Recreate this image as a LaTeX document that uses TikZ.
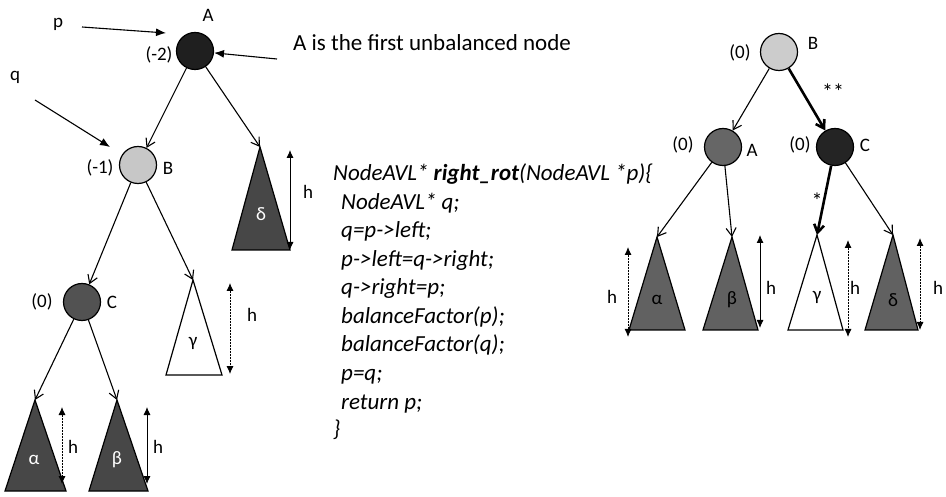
\documentclass[tikz,border=0pt]{standalone}
\usepackage{fontspec}
\setmainfont{Carlito}
\usetikzlibrary{arrows.meta}
\begin{document}
\begin{tikzpicture}[x=1pt,y=-1pt,
  lbl/.style={font=\fontsize{19}{22}\selectfont, inner sep=0pt},
  greek/.style={font=\fontsize{19}{22}\selectfont, inner sep=0pt},
  avl/.style={circle, draw, line width=1.2pt, minimum size=37pt, inner sep=0pt},
  tedge/.style={-{Straight Barb[length=8pt,width=10pt]}, line width=1.1pt},
  bedge/.style={-{Straight Barb[length=8pt,width=10pt]}, line width=2.6pt},
  ptr/.style={-{Latex[length=10pt,width=8pt]}, line width=1.1pt},
  harrow/.style={{Latex[length=8pt,width=7pt]}-{Latex[length=8pt,width=7pt]}, line width=0.9pt},
  sub/.style={draw, line width=1.2pt, line join=miter},
  code/.style={font=\fontsize{23}{27}\selectfont\itshape, anchor=base west, inner sep=0pt},
]
\path[use as bounding box] (0,0) rectangle (946,497);

% ---------- left tree ----------
\node[avl, fill=black!88] (lA) at (195,51) {};
\node[avl, fill=black!22] (lB) at (138,165) {};
\node[avl, fill=black!68] (lC) at (82,302) {};

\node[lbl] (lAn) at (208,15) {A};
\node[lbl] (lAb) at (159,55) {(-2)};
\node[lbl] (lBb) at (100,168) {(-1)};
\node[lbl] (lBn) at (168,168) {B};
\node[lbl] (lCb) at (42,302) {(0)};
\node[lbl] (lCn) at (112,302) {C};

% subtrees
\coordinate (ldT) at (260,147);
\coordinate (lgT) at (193,280);
\coordinate (laT) at (35,400);
\coordinate (lbT) at (117,400);
\path[sub, fill=black!72] (ldT) -- (232,250) -- (290,250) -- cycle;
\path[sub, fill=white] (lgT) -- (166,375) -- (222,375) -- cycle;
\path[sub, fill=black!72] (laT) -- (5,491) -- (66,491) -- cycle;
\path[sub, fill=black!72] (lbT) -- (89,491) -- (148,491) -- cycle;
\node[greek, text=white] (ldl) at (261,214) {δ};
\node[greek] (lgl) at (193,343) {γ};
\node[greek, text=white] (lal) at (34,460) {α};
\node[greek, text=white] (lbl) at (117,460) {β};

% edges
\draw[tedge] (lA) -- (lB);
\draw[tedge] (lA) -- (ldT);
\draw[tedge] (lB) -- (lC);
\draw[tedge] (lB) -- (lgT);
\draw[tedge] (lC) -- (laT);
\draw[tedge] (lC) -- (lbT);

% heights
\coordinate (ldh1) at (290,150); \coordinate (ldh2) at (290,250);
\coordinate (lgh1) at (230,283); \coordinate (lgh2) at (230,374);
\coordinate (lah1) at (62,407);  \coordinate (lah2) at (62,484);
\coordinate (lbh1) at (147,407); \coordinate (lbh2) at (147,484);
\draw[harrow] (ldh1) -- (ldh2);
\draw[harrow, dash pattern=on 2pt off 1pt] (lgh1) -- (lgh2);
\draw[harrow, dash pattern=on 2pt off 1pt] (lah1) -- (lah2);
\draw[harrow] (lbh1) -- (lbh2);
\node[lbl] (ldh) at (308,192) {h};
\node[lbl] (lgh) at (252,315) {h};
\node[lbl] (lah) at (73,447) {h};
\node[lbl] (lbh) at (158,447) {h};

% pointers
\node[lbl] (p) at (58,24) {p};
\node[lbl] (q) at (15,77) {q};
\coordinate (pS) at (82,27);  \coordinate (pE) at (166,33);
\coordinate (qS) at (35,100); \coordinate (qE) at (110,147);
\draw[ptr] (pS) -- (pE);
\draw[ptr] (qS) -- (qE);
\node[font=\fontsize{23}{27}\selectfont, inner sep=0pt, anchor=west] (note) at (293,43) {A is the first unbalanced node};
\coordinate (nS) at (277,59);
\draw[ptr] (nS) -- (lA);

% ---------- code ----------
\node[code] (c0) at (333,181) {NodeAVL* \textbf{right\_rot}(NodeAVL *p)\{};
\node[code] (c1) at (341,209.5) {NodeAVL* q;};
\node[code] (c2) at (341,238) {q=p->left;};
\node[code] (c3) at (341,266.5) {p->left=q->right;};
\node[code] (c4) at (341,295) {q->right=p;};
\node[code] (c5) at (341,323.5) {balanceFactor(p);};
\node[code] (c6) at (341,352) {balanceFactor(q);};
\node[code] (c7) at (341,380.5) {p=q;};
\node[code] (c8) at (341,409) {return p;};
\node[code] (c9) at (333,436) {\}};

% ---------- right tree ----------
\node[avl, fill=black!20] (rB) at (779,52) {};
\node[avl, fill=black!60] (rA) at (723,147) {};
\node[avl, fill=black!86] (rC) at (835,147) {};

\node[lbl] (rBb) at (740,53) {(0)};
\node[lbl] (rBn) at (813,43) {B};
\node[lbl] (rAb) at (683,145) {(0)};
\node[lbl] (rAn) at (752,150) {A};
\node[lbl] (rCb) at (800,145) {(0)};
\node[lbl] (rCn) at (865,145) {C};
\node[lbl, font=\fontsize{22}{24}\selectfont] (ss) at (833,92) {**};
\node[lbl, font=\fontsize{22}{24}\selectfont] (s) at (817,201) {*};

\coordinate (raT) at (657,237);
\coordinate (rbT) at (732,237);
\coordinate (rgT) at (817,235);
\coordinate (rdT) at (893,235);
\path[sub, fill=black!62] (raT) -- (629,330) -- (685,330) -- cycle;
\path[sub, fill=black!62] (rbT) -- (703,330) -- (758,330) -- cycle;
\path[sub, fill=white] (rgT) -- (788,330) -- (843,330) -- cycle;
\path[sub, fill=black!62] (rdT) -- (865,330) -- (918,330) -- cycle;
\node[greek] (ral) at (657,300) {α};
\node[greek] (rbl) at (732,300) {β};
\node[greek] (rgl) at (817,297) {γ};
\node[greek] (rdl) at (893,300) {δ};

\draw[tedge] (rB) -- (rA);
\draw[bedge] (rB) -- (rC);
\draw[tedge] (rA) -- (raT);
\draw[tedge] (rA) -- (rbT);
\draw[bedge] (rC) -- (rgT);
\draw[tedge] (rC) -- (rdT);

\coordinate (rah1) at (628,247); \coordinate (rah2) at (628,337);
\coordinate (rbh1) at (760,235); \coordinate (rbh2) at (760,328);
\coordinate (rgh1) at (848,240); \coordinate (rgh2) at (848,337);
\coordinate (rdh1) at (920,238); \coordinate (rdh2) at (920,330);
\draw[harrow, dash pattern=on 2pt off 1pt] (rah1) -- (rah2);
\draw[harrow] (rbh1) -- (rbh2);
\draw[harrow, dash pattern=on 2pt off 1pt] (rgh1) -- (rgh2);
\draw[harrow, dash pattern=on 2pt off 1pt] (rdh1) -- (rdh2);
\node[lbl] (rah) at (612,297) {h};
\node[lbl] (rbh) at (771,288) {h};
\node[lbl] (rgh) at (855,288) {h};
\node[lbl] (rdh) at (938,288) {h};
\end{tikzpicture}
\end{document}
